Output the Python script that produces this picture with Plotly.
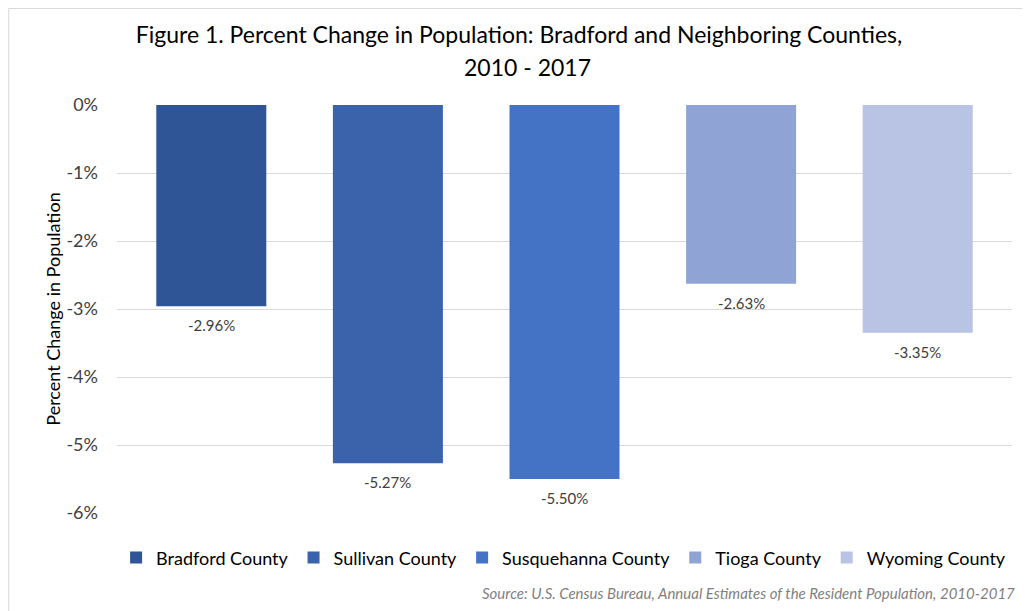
import plotly.graph_objects as go

counties = ["Bradford County", "Sullivan County", "Susquehanna County", "Tioga County", "Wyoming County"]
pct_change = [-2.96, -5.27, -5.50, -2.63, -3.35]
colors = ["#2F5597", "#3A63AC", "#4472C4", "#8FA3D4", "#B9C3E3"]
y_ticks = [0, -1, -2, -3, -4, -5, -6]
y_tick_labels = ["0%", "-1%", "-2%", "-3%", "-4%", "-5%", "-6%"]
title_line1 = "Figure 1. Percent Change in Population: Bradford and Neighboring Counties,"
title_line2 = "2010 - 2017"
source_text = "Source: U.S. Census Bureau, Annual Estimates of the Resident Population, 2010-2017"

FONT = "Lato"
TXT = "#404040"

fig = go.Figure()
for i, (name, val, col) in enumerate(zip(counties, pct_change, colors)):
    fig.add_trace(go.Bar(
        x=[i], y=[val], name=name, marker=dict(color=col, line=dict(width=0)),
        width=0.623,
    ))
    fig.add_annotation(
        x=i, y=val, xref="x", yref="y", text=f"{val:.2f}%", showarrow=False,
        yanchor="top", yshift=-8, font=dict(family=FONT, size=15, color=TXT),
    )

fig.update_layout(
    width=1022, height=603,
    paper_bgcolor="white", plot_bgcolor="white",
    margin=dict(l=109, r=18, t=97, b=98),
    barmode="overlay",
    font=dict(family=FONT, color=TXT),
    title=dict(
        text=title_line1,
        x=0.5, xanchor="center", y=0.9552, yanchor="middle",
        font=dict(family=FONT, size=23, color="#000000"),
    ),
    xaxis=dict(range=[-0.534, 4.534], showticklabels=False, showgrid=False,
               zeroline=False, showline=False, ticks=""),
    yaxis=dict(range=[-6, 0], tickvals=y_ticks, ticktext=y_tick_labels,
               showgrid=True, gridcolor="#D9D9D9", gridwidth=1,
               zeroline=False, showline=False, ticks="", ticklen=0,
               ticklabelstandoff=18,
               tickfont=dict(family=FONT, size=18, color=TXT),
               title=dict(text="Percent Change in Population",
                          font=dict(family=FONT, size=18, color="#000000"), standoff=1)),
    legend=dict(orientation="h", x=-0.001, xanchor="left", y=-0.11, yanchor="middle",
                font=dict(family=FONT, size=18, color="#000000"),
                itemwidth=30, traceorder="normal"),
    showlegend=True,
)

fig.add_annotation(
    text=title_line2, xref="paper", yref="paper", x=0.459, xanchor="center",
    y=1.0931, yanchor="middle", showarrow=False,
    font=dict(family=FONT, size=23, color="#000000"),
)

fig.add_annotation(
    text=f"<i>{source_text}</i>",
    xref="paper", yref="paper", x=1.006, xanchor="right", y=-0.196, yanchor="middle",
    showarrow=False, font=dict(family=FONT, size=15, color="#7F7F7F"),
)

fig.add_shape(type="rect", xref="paper", yref="paper",
              x0=-0.121, x1=1.05, y0=-0.3, y1=1.2365,
              line=dict(color="#D9D9D9", width=1), fillcolor="rgba(0,0,0,0)", layer="below")

fig.write_html("out.html")
